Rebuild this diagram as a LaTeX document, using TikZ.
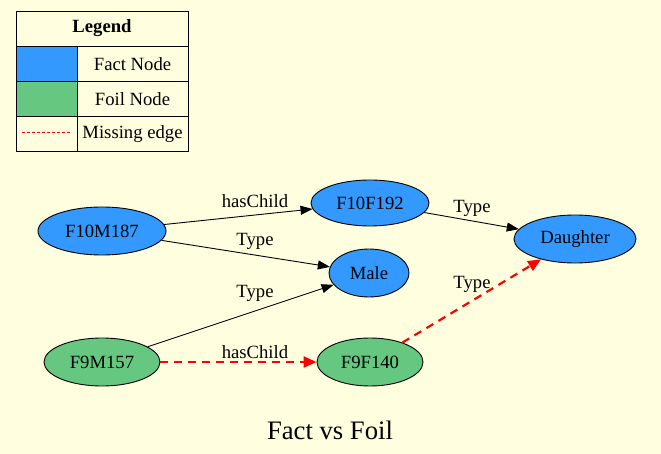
\documentclass[tikz,border=0pt]{standalone}
\usepackage{fontspec}
\setmainfont{Liberation Serif}
\usetikzlibrary{shapes.geometric,arrows.meta}
\definecolor{bg}{HTML}{FFFFE0}
\definecolor{fact}{HTML}{3399FF}
\definecolor{foil}{HTML}{66C880}
\begin{document}
\begin{tikzpicture}[x=1pt,y=-1pt,
  every node/.style={font=\fontsize{18.67}{22}\selectfont},
  gnode/.style={draw=black,ellipse,inner sep=0pt,minimum height=48pt,line width=0.9pt},
  factnode/.style={gnode,fill=fact},
  foilnode/.style={gnode,fill=foil},
  edge/.style={draw=black,line width=0.9pt,-{Triangle[length=12pt,width=9pt]}},
  missing/.style={draw=red,line width=2.2pt,dash pattern=on 8pt off 6pt,-{Triangle[length=13pt,width=11pt]}},
  elabel/.style={inner sep=1pt},
  cell/.style={draw=black,line width=0.9pt}
]
\fill[bg] (0,0) rectangle (661,454);
\useasboundingbox (0,0) rectangle (661,454);
% legend
\fill[fact] (16,46) rectangle (77,81);
\fill[foil] (16,81) rectangle (77,116);
\draw[cell] (16,11) rectangle (188,151);
\draw[cell] (16,46) -- (188,46);
\draw[cell] (16,81) -- (188,81);
\draw[cell] (16,116) -- (188,116);
\draw[cell] (77,46) -- (77,151);
\node (lh) at (102,28) {\bfseries Legend};
\node (l1) at (132.5,64) {Fact Node};
\node (l2) at (132.5,99) {Foil Node};
\node (l3) at (132.5,134) {Missing edge};
\coordinate (ma) at (22,133);
\coordinate (mb) at (70,133);
\draw[draw=red,line width=1pt,dash pattern=on 3pt off 2pt] (ma) -- (mb);
% nodes
\node[factnode,minimum width=128pt] (a) at (102,231) {F10M187};
\node[factnode,minimum width=118pt,minimum height=46pt] (b) at (370,203) {F10F192};
\node[factnode,minimum width=122pt] (d) at (575,239) {Daughter};
\node[factnode,minimum width=80pt] (m) at (369,273) {Male};
\node[foilnode,minimum width=116pt] (c) at (102,362) {F9M157};
\node[foilnode,minimum width=106pt] (e) at (370,362) {F9F140};
% edges
\draw[edge] (a) -- (b);
\draw[edge] (a) -- (m);
\draw[edge] (c) -- (m);
\draw[edge] (b) -- (d);
\draw[missing] (c) -- (e);
\draw[missing] (e) -- (d);
% labels
\node[elabel] (t1) at (255,201) {hasChild};
\node[elabel] (t2) at (255,241) {Type};
\node[elabel] (t3) at (255,293) {Type};
\node[elabel] (t4) at (255,352) {hasChild};
\node[elabel] (t5) at (472,208) {Type};
\node[elabel] (t6) at (472,284) {Type};
\node (title) at (330,430) {\fontsize{26.67}{30}\selectfont Fact vs Foil};
\end{tikzpicture}
\end{document}
